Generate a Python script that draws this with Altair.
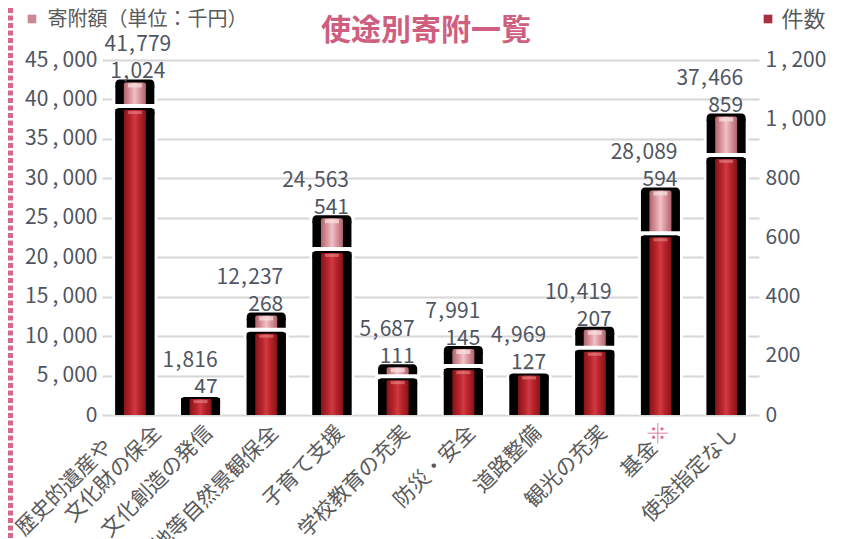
import altair as alt
import pandas as pd

# ---------------- data ----------------
categories = ["歴史的遺産や\n文化財の保全", "文化創造の発信", "緑地等自然景観保全", "子育て支援",
              "学校教育の充実", "防災・安全", "道路整備", "観光の充実", "基金※", "使途指定なし"]
amounts = [41779, 1816, 12237, 24563, 5687, 7991, 4969, 10419, 28089, 37466]
counts = [1024, 47, 268, 541, 111, 145, 127, 207, 594, 859]
amount_ticks = [0, 5000, 10000, 15000, 20000, 25000, 30000, 35000, 40000, 45000]
count_ticks = [0, 200, 400, 600, 800, 1000, 1200]

# ---------------- layout / style ----------------
FONT = "Noto Sans CJK JP"
W, H = 657, 355
PAD = {"left": 94, "top": 52, "right": 78, "bottom": 124}
NUM_COLOR = "#4f5563"
TXT_COLOR = "#5a5a5a"
TS = "\u2009"
HS = "\u200a"
AXIS_EXPR = "replace(format(datum.value, ','), ',', '" + TS + "," + TS + "')"

df = pd.DataFrame({"cat": categories, "amount": amounts, "count": counts})
one = pd.DataFrame({"k": [0]})

xenc = alt.X("cat:N", sort=categories, axis=None,
             scale=alt.Scale(paddingInner=0.1, paddingOuter=0.05))

axL = alt.Axis(values=amount_ticks, labelExpr=AXIS_EXPR, grid=True, gridColor="#d6d6d6",
               gridWidth=2, domain=False, ticks=False, labelFont=FONT, labelFontSize=21,
               labelColor=NUM_COLOR, labelPadding=5, title="寄附額（単位：千円）",
               titleAngle=0, titleAlign="left", titleBaseline="middle", titleX=-55, titleY=-41,
               titleFont=FONT, titleFontSize=20, titleFontWeight="normal", titleColor=TXT_COLOR)
axR = alt.Axis(orient="right", values=count_ticks, labelExpr=AXIS_EXPR, grid=False,
               domain=False, ticks=False, labelFont=FONT, labelFontSize=21,
               labelColor=NUM_COLOR, labelPadding=6, title="件数",
               titleAngle=0, titleAlign="left", titleBaseline="middle", titleX=22, titleY=-41,
               titleFont=FONT, titleFontSize=22, titleFontWeight="normal", titleColor=TXT_COLOR)

yL = alt.Y("amount:Q", stack=None, scale=alt.Scale(domain=[0, 45000], nice=False), axis=axL)
yR = alt.Y("count:Q", stack=None, scale=alt.Scale(domain=[0, 1200], nice=False), axis=axR)
yL2 = alt.Y2("amount:Q")
yR2 = alt.Y2("count:Q")


def hgrad(edge, mid, center):
    return alt.LinearGradient(
        gradient="linear", x1=0, x2=1, y1=0, y2=0,
        stops=[alt.GradientStop(color=edge, offset=0),
               alt.GradientStop(color=mid, offset=0.3),
               alt.GradientStop(color=center, offset=0.5),
               alt.GradientStop(color=mid, offset=0.7),
               alt.GradientStop(color=edge, offset=1)])


pink = hgrad("#b0646c", "#dc98a0", "#f0c2c6")
red = hgrad("#861419", "#b8232b", "#d03a40")
BW, HW, IW = 39, 45, 22  # black body width, white halo width, inner stripe width

# ---------------- amount (left axis) group ----------------
border = alt.Chart(one).mark_rule(color="#d46a88", strokeWidth=5, strokeDash=[5, 2.5]).encode(
    x=alt.value(-91.5), y=alt.value(-52), y2=alt.value(H + 124))

bars = alt.Chart(df)
amt_halo = bars.mark_bar(color="white", size=HW).encode(x=xenc, y=yL)
amt_halo_cap = bars.mark_bar(color="white", size=HW, yOffset=-9, y2Offset=0,
                             cornerRadiusTopLeft=9, cornerRadiusTopRight=9).encode(x=xenc, y=yL, y2=yL2)
amt_black = bars.mark_bar(color="black", size=BW).encode(x=xenc, y=yL)
amt_cap = bars.mark_bar(color="black", size=BW, yOffset=-6, y2Offset=2,
                        cornerRadiusTopLeft=7, cornerRadiusTopRight=7).encode(x=xenc, y=yL, y2=yL2)
amt_inner = bars.mark_bar(size=IW, color=pink).encode(x=xenc, y=yL)
amt_inner_cap = bars.mark_bar(size=IW, color=pink, yOffset=-3, y2Offset=1,
                              cornerRadiusTopLeft=2, cornerRadiusTopRight=2).encode(x=xenc, y=yL, y2=yL2)
amt_hl = bars.mark_bar(size=14, color="#fae2e2", opacity=0.7, yOffset=-2, y2Offset=2).encode(
    x=xenc, y=yL, y2=yL2)

lab_base = alt.Chart(df).transform_calculate(
    amt_label="replace(format(datum.amount, ','), ',', '" + HS + "," + HS + "')",
    cnt_label="replace(format(datum['count'], ','), ',', '" + HS + "," + HS + "')",
)
first = alt.FieldEqualPredicate(field="cat", equal=categories[0])
rest = alt.FieldOneOfPredicate(field="cat", oneOf=categories[1:])
tstyle = dict(font=FONT, fontSize=21, color=NUM_COLOR, baseline="alphabetic")

lab_amt_first = lab_base.transform_filter(first).mark_text(align="center", dx=3, dy=-34, **tstyle).encode(
    x=xenc, y=yL, text="amt_label:N")
lab_cnt_first = lab_base.transform_filter(first).mark_text(align="center", dx=3, dy=-7, **tstyle).encode(
    x=xenc, y=yL, text="cnt_label:N")
lab_amt_rest = lab_base.transform_filter(rest).mark_text(align="right", dx=17, dy=-34, **tstyle).encode(
    x=xenc, y=yL, text="amt_label:N")
lab_cnt_rest = lab_base.transform_filter(rest).mark_text(align="right", dx=17, dy=-7, **tstyle).encode(
    x=xenc, y=yL, text="cnt_label:N")

cstyle = dict(angle=315, align="right", baseline="middle", font=FONT, fontSize=21,
              color=TXT_COLOR, xOffset=9)
LY = H + 15

cat_labels = alt.Chart(df).transform_filter(rest).transform_calculate(
    lbl="datum.cat == '基金※' ? '基金\u3000\u200b' : datum.cat"
).mark_text(**cstyle).encode(x=xenc, y=alt.value(LY), text="lbl:N")

first_lines = alt.Chart(df).transform_filter(first).transform_calculate(
    l1="split(datum.cat, '\\n')[0]", l2="split(datum.cat, '\\n')[1]")
cat_first_1 = first_lines.mark_text(dx=-34, dy=-15, **cstyle).encode(
    x=xenc, y=alt.value(LY), text="l1:N")
cat_first_2 = first_lines.mark_text(dx=10, dy=10, **cstyle).encode(
    x=xenc, y=alt.value(LY), text="l2:N")

kome = alt.Chart(df).transform_filter(alt.FieldEqualPredicate(field="cat", equal="基金※")).mark_text(
    text="※", angle=315, align="right", baseline="middle", font=FONT, fontSize=21,
    color="#e0708e", xOffset=9, dy=-4).encode(x=xenc, y=alt.value(LY))

title = alt.Chart(one).mark_text(
    text="使途別寄附一覧", font=FONT, fontSize=30, fontWeight="bold", color="#cf5f80",
    align="center", baseline="middle").encode(x=alt.value(324), y=alt.value(-29))
icon_l = alt.Chart(one).mark_square(size=75, color="#c98a96", opacity=1, filled=True).encode(
    x=alt.value(-70), y=alt.value(-41))
icon_r = alt.Chart(one).mark_square(size=75, color="#a8303f", opacity=1, filled=True).encode(
    x=alt.value(666), y=alt.value(-41))

amount_group = alt.layer(border, amt_halo, amt_halo_cap, amt_black, amt_cap, amt_inner,
                         amt_inner_cap, amt_hl,
                         lab_amt_first, lab_cnt_first, lab_amt_rest, lab_cnt_rest,
                         cat_labels, cat_first_1, cat_first_2, kome, title, icon_l, icon_r)

# ---------------- count (right axis) group ----------------
cnt_gap = bars.mark_bar(color="white", size=HW, yOffset=-8, y2Offset=-3).encode(x=xenc, y=yR, y2=yR2)
cnt_black = bars.mark_bar(color="black", size=BW).encode(x=xenc, y=yR)
cnt_cap = bars.mark_bar(color="black", size=BW, yOffset=-4, y2Offset=3,
                        cornerRadiusTopLeft=6, cornerRadiusTopRight=6).encode(x=xenc, y=yR, y2=yR2)
cnt_inner = bars.mark_bar(size=IW, color=red).encode(x=xenc, y=yR)
cnt_inner_cap = bars.mark_bar(size=IW, color=red, yOffset=-2, y2Offset=1,
                              cornerRadiusTopLeft=2, cornerRadiusTopRight=2).encode(x=xenc, y=yR, y2=yR2)
cnt_hl = bars.mark_bar(size=14, color="#ee9c9c", opacity=0.5, yOffset=-1, y2Offset=2).encode(
    x=xenc, y=yR, y2=yR2)

count_group = alt.layer(cnt_gap, cnt_black, cnt_cap, cnt_inner, cnt_inner_cap, cnt_hl)

chart = alt.layer(amount_group, count_group).resolve_scale(y="independent").properties(
    width=W, height=H, padding=PAD, autosize=alt.AutoSizeParams(type="none"),
    background="white"
).configure_view(stroke=None)

chart.save("out.html", embed_options={"renderer": "svg", "actions": False})
